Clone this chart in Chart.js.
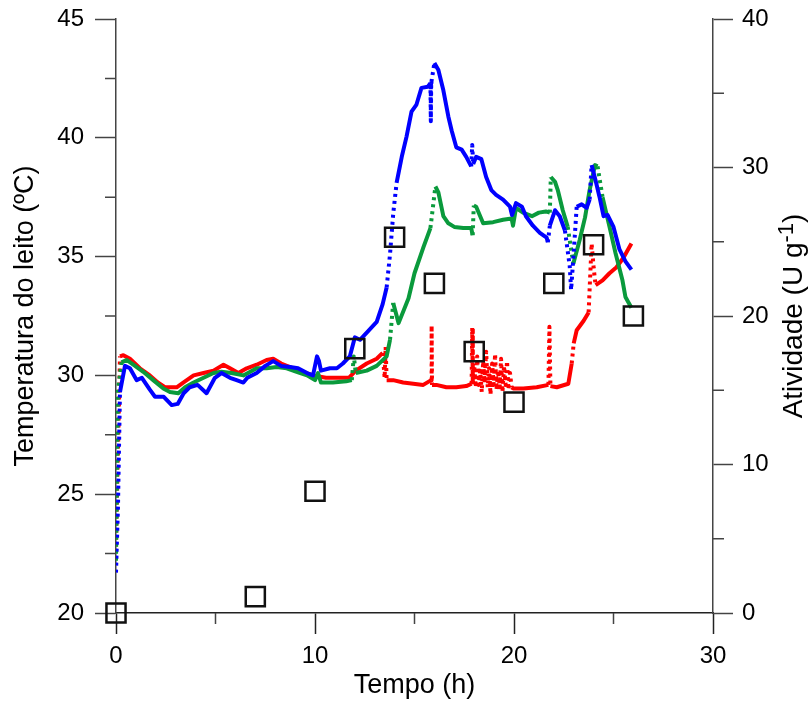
<!DOCTYPE html>
<html>
<head>
<meta charset="utf-8">
<script src="https://cdn.jsdelivr.net/npm/chart.js@4.4.1/dist/chart.umd.min.js"></script>
<style>
  html, body { margin: 0; padding: 0; background: #fff; }
  canvas { display: block; }
</style>
</head>
<body>
<canvas id="leitoChart" width="810" height="702"></canvas>
<script>
// Temperatura do leito (three runs) and atividade enzimática over time

const blueTime = [0.00, 0.10, 0.20, 0.45, 0.70, 1.04, 1.30, 1.70, 1.96, 2.40, 2.80, 3.10, 3.40, 3.70, 4.10, 4.55, 4.97, 5.30, 5.73, 6.06,
  6.40, 6.60, 7.07, 7.50, 7.90, 8.30, 8.75, 9.15, 9.60, 9.90, 10.10, 10.20, 10.30, 10.75, 11.10, 11.40, 11.75, 12.00, 12.26, 12.60,
  13.10, 13.40, 13.60, 13.77, 13.93, 14.10, 14.36, 14.60, 14.85, 15.10, 15.35, 15.67, 15.80, 15.82, 15.84, 15.85, 16.00, 16.20, 16.45, 16.70,
  16.87, 17.10, 17.37, 17.60, 17.85, 17.90, 17.95, 18.10, 18.36, 18.60, 18.86, 19.10, 19.45, 19.80, 19.90, 20.10, 20.40, 20.60, 20.95, 21.30,
  21.64, 21.70, 21.80, 22.06, 22.30, 22.56, 22.80, 22.87, 23.00, 23.15, 23.40, 23.65, 23.80, 23.90, 24.10, 24.30, 24.50, 24.70, 25.00, 25.30,
  25.60, 25.90];
const blueTemp = [21.7, 24.5, 29.3, 30.4, 30.3, 29.8, 29.9, 29.4, 29.1, 29.1, 28.75, 28.8, 29.25, 29.5, 29.6, 29.25, 29.9, 30.1, 29.9, 29.8,
  29.7, 29.9, 30.1, 30.4, 30.6, 30.4, 30.35, 30.3, 30.1, 30.0, 30.8, 30.6, 30.2, 30.3, 30.3, 30.5, 30.8, 31.6, 31.5, 31.8,
  32.25, 33.0, 33.7, 35.1, 36.8, 38.1, 39.2, 40.05, 41.1, 41.4, 42.1, 42.15, 42.3, 40.7, 42.3, 42.35, 43.15, 42.85, 42.0, 40.9,
  40.3, 39.6, 39.5, 39.2, 38.8, 39.7, 38.9, 39.2, 39.1, 38.35, 37.8, 37.6, 37.4, 37.1, 36.75, 37.25, 37.1, 36.7, 36.3, 36.0,
  35.8, 35.6, 36.3, 36.95, 36.7, 36.1, 34.6, 33.6, 35.15, 37.1, 37.2, 37.05, 37.4, 38.85, 38.2, 37.5, 36.7, 36.75, 36.25, 35.3,
  34.8, 34.45];

const greenTime = [0.00, 0.10, 0.28, 0.53, 0.87, 1.37, 1.87, 2.38, 2.71, 3.13, 3.47, 3.90, 4.40, 4.90, 5.30, 5.80, 6.40, 7.07, 7.57, 8.07,
  8.58, 9.08, 9.60, 10.00, 10.15, 10.30, 10.90, 11.57, 11.85, 11.95, 12.05, 12.60, 13.10, 13.60, 13.77, 13.93, 14.20, 14.70, 15.00, 15.45,
  15.80, 16.05, 16.20, 16.45, 16.70, 17.00, 17.45, 17.85, 17.92, 17.98, 18.10, 18.45, 18.95, 19.45, 19.88, 19.95, 20.10, 20.45, 20.90, 21.25,
  21.60, 21.80, 21.85, 22.06, 22.20, 22.45, 22.70, 22.98, 23.30, 23.57, 23.80, 24.07, 24.20, 24.45, 24.80, 25.10, 25.45, 25.60, 25.90];
const greenTemp = [22.2, 29.4, 30.55, 30.65, 30.45, 30.15, 29.8, 29.45, 29.3, 29.25, 29.5, 29.7, 29.9, 30.1, 30.15, 30.1, 30.0, 30.3, 30.3, 30.35,
  30.3, 30.15, 30.0, 29.8, 30.1, 29.7, 29.7, 29.75, 29.8, 30.8, 30.1, 30.2, 30.4, 30.8, 31.5, 33.05, 32.2, 33.25, 34.3, 35.4,
  36.2, 37.95, 37.7, 36.7, 36.4, 36.25, 36.2, 36.2, 35.9, 37.15, 37.1, 36.4, 36.45, 36.55, 36.6, 36.3, 37.05, 36.85, 36.7, 36.85,
  36.9, 36.85, 38.35, 38.15, 37.8, 36.95, 36.25, 34.7, 35.7, 36.65, 37.8, 38.85, 38.8, 37.5, 36.25, 35.15, 34.0, 33.3, 32.85];

const redTime = [0.00, 0.20, 0.37, 0.70, 1.20, 1.70, 2.10, 2.46, 3.05, 3.38, 3.90, 4.40, 4.90, 5.40, 5.73, 6.15, 6.57, 7.07, 7.57, 7.90,
  8.30, 8.90, 9.40, 9.90, 10.55, 11.20, 11.70, 12.05, 12.60, 13.10, 13.40, 13.50, 13.55, 13.60, 13.93, 14.43, 14.94, 15.44, 15.84, 15.86,
  15.88, 16.10, 16.60, 17.10, 17.60, 17.87, 17.90, 17.93, 18.00, 18.08, 18.15, 18.22, 18.30, 18.38, 18.45, 18.52, 18.60, 18.68, 18.75, 18.82,
  18.90, 18.98, 19.05, 19.12, 19.20, 19.28, 19.35, 19.42, 19.50, 19.58, 19.65, 19.72, 19.80, 19.88, 19.96, 20.47, 21.14, 21.73, 21.78, 21.83,
  22.15, 22.73, 22.90, 23.00, 23.15, 23.50, 23.75, 23.90, 24.00, 24.10, 24.45, 24.80, 25.15, 25.50, 25.90];
const redTemp = [22.8, 30.8, 30.85, 30.7, 30.3, 30.0, 29.7, 29.5, 29.5, 29.7, 30.0, 30.1, 30.2, 30.45, 30.3, 30.1, 30.3, 30.45, 30.65, 30.7,
  30.5, 30.3, 30.15, 30.0, 29.9, 29.9, 29.9, 30.2, 30.5, 30.7, 30.95, 29.9, 31.2, 29.8, 29.8, 29.7, 29.65, 29.6, 29.8, 32.1,
  29.6, 29.6, 29.5, 29.5, 29.55, 29.65, 32.0, 29.7, 30.4, 29.5, 30.8, 29.6, 30.2, 29.3, 30.6, 29.7, 31.0, 29.5, 30.3, 29.2,
  30.5, 29.6, 30.9, 29.4, 30.2, 29.5, 30.7, 29.3, 30.4, 29.6, 30.6, 29.4, 30.1, 29.5, 29.45, 29.45, 29.5, 29.6, 32.05, 29.55,
  29.5, 29.65, 30.5, 31.35, 31.9, 32.3, 32.65, 35.55, 34.55, 33.8, 34.0, 34.3, 34.55, 34.95, 35.55];

// atividade (U g-1), right axis
const activityTime = [0, 7, 10, 12, 14, 16, 18, 20, 22, 24, 26];
const activityValue = [0, 1.1, 8.2, 17.8, 25.3, 22.2, 17.6, 14.2, 22.2, 24.8, 20.0];

const xMinorTicks = [5, 15, 25];
const tempMinorTicks = [22.5, 27.5, 32.5, 37.5, 42.5];
const activityMinorTicks = [5, 15, 25, 35];

const FONT = "'Liberation Sans', Arial, sans-serif";
const axisColor = '#444';

function toPoints(xs, ys) {
  return xs.map((x, i) => ({ x: x, y: ys[i] }));
}

// sparse logger samples on fast rises show up dotted
function steepDash(ctx) {
  const dx = Math.abs(ctx.p1.x - ctx.p0.x);
  const dy = Math.abs(ctx.p1.y - ctx.p0.y);
  return dy > 12 && dy > 6 * dx ? [3, 4] : undefined;
}

function tempLine(label, xs, ys, color, order) {
  return {
    label: label,
    data: toPoints(xs, ys),
    yAxisID: 'y',
    showLine: true,
    borderColor: color,
    backgroundColor: color,
    borderWidth: 4,
    borderJoinStyle: 'round',
    pointRadius: 0,
    tension: 0,
    order: order,
    segment: { borderDash: steepDash }
  };
}

// vertical axes: fixed width, no extra room for the end labels
function fixVertical(width) {
  return function (scale) {
    scale.width = width;
    scale.paddingTop = 0;
    scale.paddingBottom = 0;
  };
}

// small outward ticks between the labelled ones
const minorTicks = {
  id: 'minorTicks',
  afterDraw(chart) {
    const { ctx, chartArea, scales } = chart;
    const len = 11;
    ctx.save();
    ctx.lineWidth = 1.5;
    ctx.strokeStyle = axisColor;
    ctx.beginPath();
    xMinorTicks.forEach(v => {
      const px = scales.x.getPixelForValue(v);
      ctx.moveTo(px, chartArea.bottom);
      ctx.lineTo(px, chartArea.bottom + len);
    });
    tempMinorTicks.forEach(v => {
      const py = scales.y.getPixelForValue(v);
      ctx.moveTo(chartArea.left, py);
      ctx.lineTo(chartArea.left - len, py);
    });
    activityMinorTicks.forEach(v => {
      const py = scales.y1.getPixelForValue(v);
      ctx.moveTo(chartArea.right, py);
      ctx.lineTo(chartArea.right + len, py);
    });
    ctx.stroke();
    ctx.restore();
  }
};

// right axis title, read bottom-to-top with a superscript exponent
const rightTitle = {
  id: 'rightTitle',
  afterDraw(chart) {
    const { ctx, chartArea } = chart;
    const main = 'Atividade (U g';
    const sup = '-1';
    const tail = ')';
    const size = 28, supSize = 22;
    ctx.save();
    ctx.fillStyle = '#000';
    ctx.textBaseline = 'alphabetic';
    ctx.textAlign = 'left';
    ctx.font = size + 'px ' + FONT;
    const wMain = ctx.measureText(main).width;
    const wTail = ctx.measureText(tail).width;
    ctx.font = supSize + 'px ' + FONT;
    const wSup = ctx.measureText(sup).width;
    const total = wMain + wSup + wTail;
    ctx.translate(chartArea.right + 89, (chartArea.top + chartArea.bottom) / 2);
    ctx.rotate(-Math.PI / 2);
    let u = -total / 2;
    ctx.font = size + 'px ' + FONT;
    ctx.fillText(main, u, 0);
    u += wMain;
    ctx.font = supSize + 'px ' + FONT;
    ctx.fillText(sup, u, -9);
    u += wSup;
    ctx.font = size + 'px ' + FONT;
    ctx.fillText(tail, u, 0);
    ctx.restore();
  }
};

new Chart(document.getElementById('leitoChart'), {
  type: 'scatter',
  data: {
    datasets: [
      {
        label: 'Atividade',
        data: toPoints(activityTime, activityValue),
        yAxisID: 'y1',
        pointStyle: 'rect',
        pointRadius: 13.5,
        pointHoverRadius: 13.5,
        borderColor: '#111',
        borderWidth: 2.5,
        backgroundColor: 'rgba(0,0,0,0)',
        showLine: false,
        clip: false,
        order: 0
      },
      tempLine('Leito 1', blueTime, blueTemp, '#0000ff', 1),
      tempLine('Leito 2', greenTime, greenTemp, '#0a9a3c', 2),
      tempLine('Leito 3', redTime, redTemp, '#ff0000', 3)
    ]
  },
  options: {
    responsive: false,
    animation: false,
    events: [],
    layout: { padding: { top: 19, right: 0, bottom: 0, left: 0 } },
    plugins: {
      legend: { display: false },
      tooltip: { enabled: false }
    },
    scales: {
      x: {
        type: 'linear',
        min: 0,
        max: 30,
        border: { color: '#222', width: 1.5 },
        grid: { drawOnChartArea: false, drawTicks: true, tickLength: 21, tickColor: '#222', tickWidth: 1.5 },
        ticks: { stepSize: 10, color: '#000', font: { family: FONT, size: 24 }, padding: 8, maxRotation: 0 },
        title: { display: true, text: 'Tempo (h)', color: '#000', font: { family: FONT, size: 27 }, padding: { top: 0, bottom: 0 } },
        afterFit(scale) { scale.height = 89; scale.paddingLeft = 0; scale.paddingRight = 0; }
      },
      y: {
        type: 'linear',
        position: 'left',
        min: 20,
        max: 45,
        border: { color: axisColor, width: 1.5 },
        grid: { drawOnChartArea: false, drawTicks: true, tickLength: 21, tickColor: axisColor, tickWidth: 1.5 },
        ticks: { stepSize: 5, color: '#000', font: { family: FONT, size: 24 }, padding: 11 },
        title: { display: true, text: 'Temperatura do leito (ºC)', color: '#000', font: { family: FONT, size: 27 }, padding: { top: 9, bottom: 0 } },
        afterFit: fixVertical(116)
      },
      y1: {
        type: 'linear',
        position: 'right',
        min: 0,
        max: 40,
        border: { color: axisColor, width: 1.5 },
        grid: { drawOnChartArea: false, drawTicks: true, tickLength: 20, tickColor: axisColor, tickWidth: 1.5 },
        ticks: { stepSize: 10, color: '#000', font: { family: FONT, size: 24 }, padding: 9 },
        afterFit: fixVertical(97)
      }
    }
  },
  plugins: [minorTicks, rightTitle]
});
</script>
</body>
</html>
